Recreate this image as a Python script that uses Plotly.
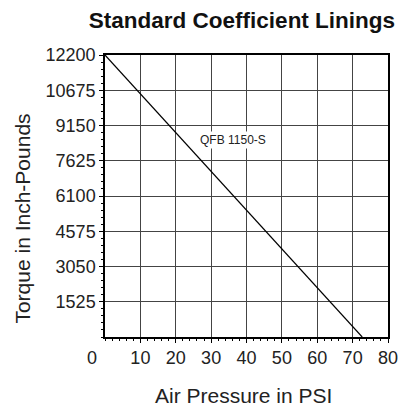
import plotly.graph_objects as go

# Datos
presion_psi = [0, 72.7]
torque_inlb = [12200, 0]
serie_nombre = "QFB 1150-S"

x_ticks = [10, 20, 30, 40, 50, 60, 70, 80]
y_ticks = [1525, 3050, 4575, 6100, 7625, 9150, 10675, 12200]
y_labels = [str(v) for v in y_ticks]

FUENTE = "Liberation Sans, Arial, sans-serif"
GRID = "#444444"

fig = go.Figure()

fig.add_trace(go.Scatter(
    x=presion_psi, y=torque_inlb, mode="lines",
    line=dict(color="black", width=1.2), showlegend=False, hoverinfo="skip",
))

# etiqueta de la curva (fondo blanco tapa la rejilla)
fig.add_annotation(x=36.2, y=8520, text=serie_nombre, showarrow=False,
                   font=dict(family=FUENTE, size=12, color="#222"),
                   bgcolor="white", borderpad=1)

# "0" del origen desplazado a la izquierda
fig.add_annotation(x=0, y=0, text="0", showarrow=False, xshift=-13, yshift=-21,
                   font=dict(family=FUENTE, size=18, color="#222"))

# títulos de los ejes
fig.add_annotation(xref="paper", yref="paper", x=0, y=0.42, xshift=-82,
                   xanchor="center", yanchor="middle",
                   text="Torque in Inch-Pounds", textangle=-90, showarrow=False,
                   font=dict(family=FUENTE, size=21, color="#222"))
fig.add_annotation(xref="paper", yref="paper", x=0.489, y=0, yshift=-58,
                   xanchor="center", yanchor="middle",
                   text="Air Pressure in PSI", showarrow=False,
                   font=dict(family=FUENTE, size=21, color="#222"))

fig.update_layout(
    width=399, height=407,
    margin=dict(l=105, r=11, t=55, b=70, autoexpand=False),
    paper_bgcolor="white", plot_bgcolor="white",
    title=dict(text="<b>Standard Coefficient Linings</b>", xref="container", yref="container",
               x=0.6065, y=0.951, xanchor="center", yanchor="middle",
               font=dict(family=FUENTE, size=22.5, color="#111")),
    font=dict(family=FUENTE, color="#222"),
)

fig.update_xaxes(
    range=[0, 80], tickvals=x_ticks, showgrid=True, gridcolor=GRID, gridwidth=1,
    showline=True, linecolor="black", linewidth=1.5, mirror=True,
    ticks="outside", ticklen=4, tickcolor="black", tickfont=dict(size=18),
    ticklabeloverflow="allow", automargin=False,
    minor=dict(dtick=2, ticks="outside", ticklen=2, tickcolor="black", showgrid=False),
    zeroline=False, fixedrange=True,
)
fig.update_yaxes(
    range=[0, 12200], tickvals=y_ticks, ticktext=y_labels, showgrid=True, gridcolor=GRID, gridwidth=1,
    showline=True, linecolor="black", linewidth=1.5, mirror=True,
    ticks="outside", ticklen=4, tickcolor="black", tickfont=dict(size=18),
    automargin=False,
    minor=dict(dtick=305, ticks="outside", ticklen=2, tickcolor="black", showgrid=False),
    zeroline=False, fixedrange=True,
)

# quitar el margen por defecto del body para que la figura ocupe toda la ventana
fig.write_html("out.html", config={"displayModeBar": False},
               post_script="document.body.style.margin='0';document.body.style.overflow='hidden';")
